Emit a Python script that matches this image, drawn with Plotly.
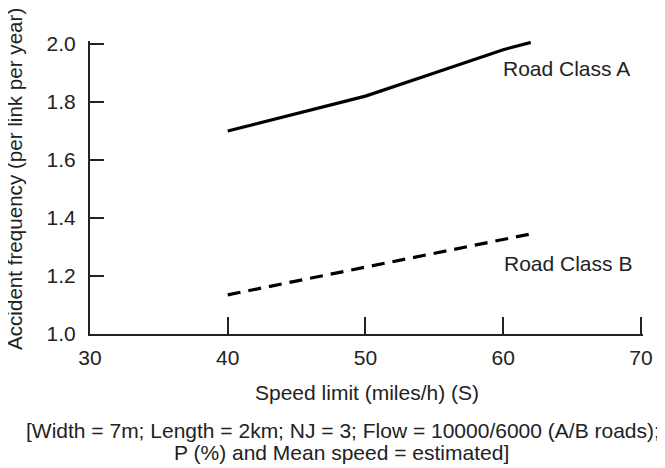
import plotly.graph_objects as go

speed_a = [40, 45, 50, 55, 60, 62]
freq_a = [1.70, 1.76, 1.82, 1.90, 1.98, 2.005]
speed_b = [40, 50, 62]
freq_b = [1.135, 1.23, 1.345]
x_ticks = [30, 40, 50, 60, 70]
y_ticks = [1.0, 1.2, 1.4, 1.6, 1.8, 2.0]
y_tick_text = ["1.0", "1.2", "1.4", "1.6", "1.8", "2.0"]

ink = "#222222"
font = dict(family="Liberation Sans, Arial, sans-serif", size=21, color=ink)
title_font = dict(family="Liberation Sans, Arial, sans-serif", size=20.6, color=ink)

fig = go.Figure()
fig.add_trace(go.Scatter(x=speed_a, y=freq_a, mode="lines",
                         line=dict(color="black", width=3.2), showlegend=False))
fig.add_trace(go.Scatter(x=speed_b, y=freq_b, mode="lines",
                         line=dict(color="black", width=3.2, dash="13px,8px"), showlegend=False))

fig.add_annotation(x=59.85, y=1.914, xref="x", yref="y", text="Road Class A",
                   showarrow=False, xanchor="left", yanchor="middle", font=font)
fig.add_annotation(x=59.9, y=1.244, xref="x", yref="y", text="Road Class B",
                   showarrow=False, xanchor="left", yanchor="middle", font=font)

fig.add_annotation(x=0.5, y=-0.198, xref="paper", yref="paper", yanchor="middle",
                   text="Speed limit (miles/h) (S)", showarrow=False, font=font)
fig.add_annotation(x=0.457, y=-0.331, xref="paper", yref="paper", yanchor="middle",
                   text="[Width = 7m; Length = 2km; NJ = 3; Flow = 10000/6000 (A/B roads);",
                   showarrow=False, font=font)
fig.add_annotation(x=0.455, y=-0.406, xref="paper", yref="paper", yanchor="middle",
                   text="P (%) and Mean speed = estimated]",
                   showarrow=False, font=font)
fig.add_annotation(x=-0.1375, y=0.529, xref="paper", yref="paper", xanchor="center",
                   yanchor="middle", textangle=-90,
                   text="Accident frequency (per link per year)", showarrow=False, font=title_font)

fig.update_xaxes(range=[30, 70.15], tickvals=x_ticks, showline=True, linecolor=ink, linewidth=2,
                 ticks="inside", ticklen=17, tickwidth=2, tickcolor=ink, showgrid=False,
                 zeroline=False, tickfont=font, ticklabelstandoff=4, automargin=False)
fig.update_yaxes(range=[1.0, 2.01], tickvals=y_ticks, ticktext=y_tick_text, showline=True,
                 linecolor=ink, linewidth=2, ticks="inside", ticklen=14, tickwidth=2,
                 tickcolor=ink, showgrid=False, zeroline=False, tickfont=font,
                 ticklabelstandoff=8, automargin=False)

fig.update_layout(width=665, height=468, margin=dict(l=82, r=30, t=33, b=142),
                  plot_bgcolor="white", paper_bgcolor="white", font=font)
fig.write_html("out.html")
